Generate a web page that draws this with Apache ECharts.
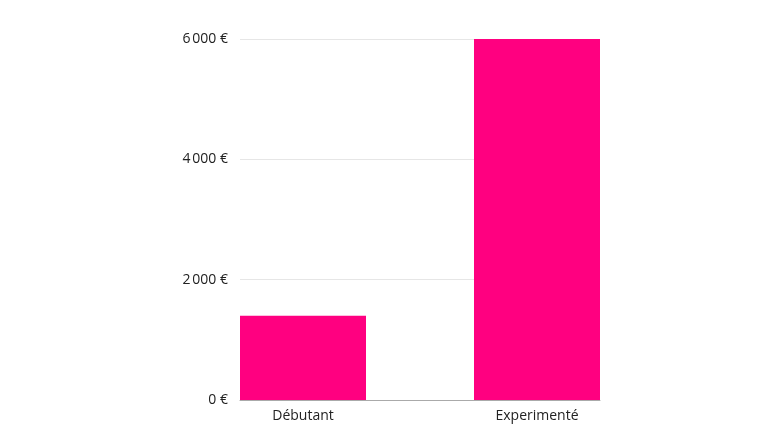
<!DOCTYPE html>
<html lang="fr">
<head>
<meta charset="utf-8">
<script src="https://cdn.jsdelivr.net/npm/echarts@6/dist/echarts.min.js"></script>
<style>
    html, body { margin: 0; padding: 0; background: #fff; }
    #chart { width: 775px; height: 436px; }
</style>
</head>
<body>
<div id="chart"></div>
<script>
    var categories = ['Débutant', 'Experimenté'];
    var salaries = [1400, 6000];
    var yTicks = [0, 2000, 4000, 6000];

    function euro(v) {
        var s = String(v);
        if (s.length > 3) s = s.slice(0, s.length - 3) + '\u202f' + s.slice(-3);
        return s + ' €';
    }

    var yMin = yTicks[0], yMax = yTicks[yTicks.length - 1];

    var chart = echarts.init(document.getElementById('chart'));
    chart.setOption({
        animation: false,
        textStyle: { fontFamily: 'Open Sans' },
        // grid 0: axis frame + gridlines, grid 1: bars (wider so bars sit flush with the frame)
        grid: [
            { left: 240, right: 175, top: 39, bottom: 36 },
            { left: 186, right: 121, top: 39, bottom: 36 }
        ],
        xAxis: [{
            gridIndex: 0,
            type: 'category',
            data: categories,
            axisTick: { show: false },
            axisLabel: { show: false },
            axisLine: { lineStyle: { color: '#aaaaaa', width: 1 } }
        }, {
            gridIndex: 1,
            type: 'category',
            data: categories,
            axisTick: { show: false },
            axisLine: { show: false },
            axisLabel: { color: '#222', fontSize: 14, margin: 9 }
        }],
        yAxis: [{
            gridIndex: 0,
            type: 'value',
            min: yMin,
            max: yMax,
            interval: 2000,
            axisLine: { show: false },
            axisTick: { show: false },
            splitLine: { lineStyle: { color: '#e6e6e6' } },
            axisLabel: { color: '#222', fontSize: 14, margin: 12, formatter: euro }
        }, {
            gridIndex: 1,
            type: 'value',
            min: yMin,
            max: yMax,
            interval: 2000,
            show: false,
            splitLine: { show: false }
        }],
        series: [{
            type: 'bar',
            xAxisIndex: 1,
            yAxisIndex: 1,
            data: salaries,
            barWidth: 126,
            z: 3,
            itemStyle: { color: '#ff0080' }
        }]
    });
</script>
</body>
</html>
